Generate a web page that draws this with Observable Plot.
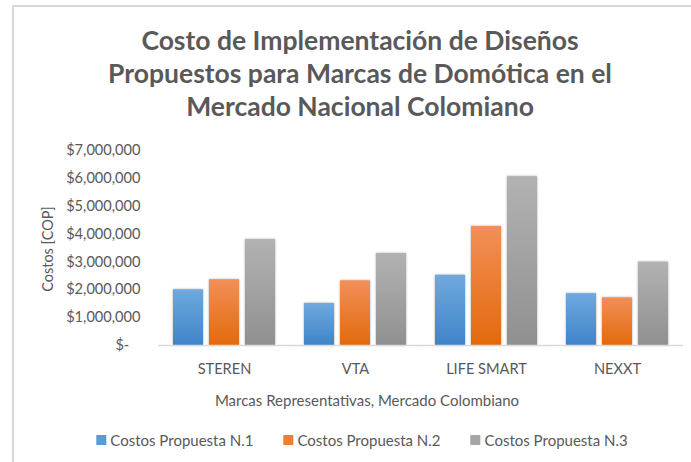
<!DOCTYPE html>
<html>
<head>
<meta charset="utf-8">
<script src="https://cdn.jsdelivr.net/npm/d3@7"></script>
<script src="https://cdn.jsdelivr.net/npm/@observablehq/plot@0.6"></script>
<style>
  html, body { margin: 0; padding: 0; background: #fff; }
  body { width: 691px; height: 462px; position: relative; overflow: hidden; font-family: Lato, "Open Sans", sans-serif; color: #595959; }
  #frame { position: absolute; left: 12px; top: 5px; width: 720px; height: 500px; border-left: 2px solid #d9d9d9; border-top: 2px solid #d9d9d9; box-sizing: border-box; }
  #title { position: absolute; left: 0; top: 24px; width: 720px; text-align: center; font-weight: bold; font-size: 26.5px; line-height: 33px; }
  #chart { position: absolute; left: 0; top: 0; }
  #ytitle { position: absolute; left: 47px; top: 249px; transform: translate(-50%, -50%) rotate(-90deg); font-size: 14.5px; white-space: nowrap; }
  #xtitle { position: absolute; left: 367px; top: 400px; transform: translate(-50%, -50%); font-size: 15px; white-space: nowrap; }
  #legend { position: absolute; left: 362px; top: 440px; transform: translate(-50%, -50%); display: flex; gap: 30px; font-size: 15px; white-space: nowrap; }
  .item { display: flex; align-items: center; gap: 4px; }
  .sw { width: 10px; height: 10px; display: inline-block; }
</style>
</head>
<body>
<div id="frame"></div>
<div id="title">Costo de Implementación de Diseños<br>Propuestos para Marcas de Domótica en el<br>Mercado Nacional Colomiano</div>
<div id="chart"></div>
<div id="ytitle">Costos [COP]</div>
<div id="xtitle">Marcas Representativas, Mercado Colombiano</div>
<div id="legend"></div>
<script>
const brands = ["STEREN", "VTA", "LIFE SMART", "NEXXT"];
const series = ["Costos Propuesta N.1", "Costos Propuesta N.2", "Costos Propuesta N.3"];
const propuesta1 = [2000000, 1510000, 2520000, 1860000];
const propuesta2 = [2360000, 2320000, 4270000, 1710000];
const propuesta3 = [3800000, 3300000, 6060000, 2990000];
const yTicks = [0, 1000000, 2000000, 3000000, 4000000, 5000000, 6000000, 7000000];

const seriesColors = ["#5b9bd5", "#ed7d31", "#a5a5a5"];
const gradTop = ["#6fa9de", "#f28f58", "#b2b2b2"];
const gradBottom = ["#3f84c9", "#e26a0c", "#909090"];
const gradIds = ["gBlue", "gOrange", "gGray"];

const values = [propuesta1, propuesta2, propuesta3];
const rows = [];
brands.forEach((b, i) => series.forEach((s, j) => rows.push({brand: b, series: s, value: values[j][i]})));

const fmt = d => d === 0 ? "$-\u00a0\u00a0\u00a0" : "$" + d3.format(",")(d);

const svg = Plot.plot({
  width: 691,
  height: 380,
  marginTop: 150,
  marginBottom: 35,
  marginLeft: 158,
  marginRight: 8,
  facet: {data: rows, x: "brand", label: null},
  fx: {domain: brands, paddingInner: 0.225, paddingOuter: 0.1125, axis: "bottom", tickSize: 0, tickPadding: 18, label: null},
  x: {domain: series, paddingInner: 0.18, paddingOuter: 0, axis: null},
  y: {domain: [0, 7000000], ticks: yTicks, tickFormat: fmt, tickSize: 0, tickPadding: 33, label: null},
  color: {domain: series, range: gradIds.map(id => `url(#${id})`)},
  style: {fontFamily: "Lato, 'Open Sans', sans-serif", fontSize: "14.6px", color: "#595959", background: "transparent", overflow: "visible"},
  marks: [
    Plot.barY(rows, {x: "series", y: "value", fill: "series"}),
    Plot.ruleY([0], {stroke: "#d9d9d9", strokeWidth: 1.5, insetLeft: -14.8, insetRight: -14.8})
  ]
});

const defs = d3.select(svg).insert("defs", ":first-child");
gradIds.forEach((id, i) => {
  const g = defs.append("linearGradient").attr("id", id).attr("x1", 0).attr("y1", 0).attr("x2", 0).attr("y2", 1);
  g.append("stop").attr("offset", "0%").attr("stop-color", gradTop[i]);
  g.append("stop").attr("offset", "100%").attr("stop-color", gradBottom[i]);
});
d3.select(svg).selectAll("rect").style("filter", "drop-shadow(0px 0px 1px rgba(0,0,0,0.35))");

document.getElementById("chart").appendChild(svg);

const legend = d3.select("#legend");
series.forEach((s, i) => {
  const it = legend.append("div").attr("class", "item");
  it.append("span").attr("class", "sw").style("background", seriesColors[i]);
  it.append("span").text(s);
});
</script>
</body>
</html>
